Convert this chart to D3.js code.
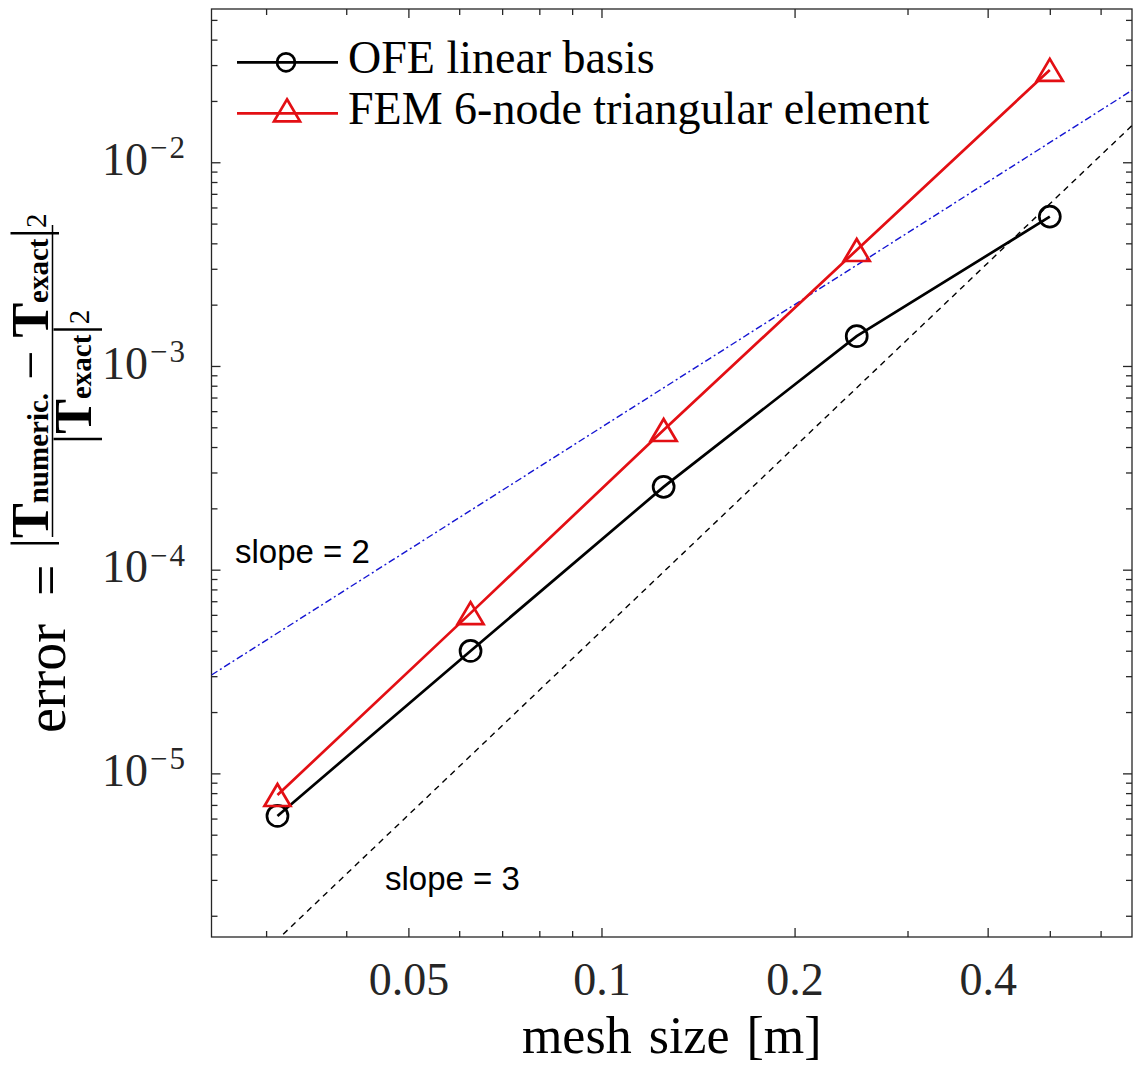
<!DOCTYPE html>
<html><head><meta charset="utf-8">
<script src="https://cdn.jsdelivr.net/npm/d3@7"></script>
<style>body{margin:0;background:#fff} svg{display:block}</style>
</head><body><svg id="c" width="1134" height="1070"></svg>
<script>
// ---- data ----
const meshSize = [0.03125, 0.0625, 0.125, 0.25, 0.5];
const ofeError = [6.18e-6, 3.99e-5, 2.55e-4, 1.40e-3, 5.41e-3];
const femError = [7.83e-6, 6.12e-5, 4.85e-4, 3.71e-3, 2.84e-2];
const seriesNames = ["OFE linear basis", "FEM 6-node triangular element"];
const slopeOrders = [2, 3];
const slopeCoef = [0.05, 0.05];
const slopeLabels = ["slope = 2", "slope = 3"];
const xMajorTicks = [0.05, 0.1, 0.2, 0.4];
const xMinorTicks = [0.03, 0.04, 0.06, 0.07, 0.08, 0.09, 0.3, 0.5, 0.6];
const yMajorExponents = [-5, -4, -3, -2];
const xDomain = [0.02466, 0.6716];
const yDomain = [1.573e-6, 0.05655];

// ---- layout ----
const L = 211.5, R = 1132, T = 9, B = 937;
const svg = d3.select("#c");
const x = d3.scaleLog().domain(xDomain).range([L, R]);
const y = d3.scaleLog().domain(yDomain).range([B, T]);
const axisCol = "#262626";
const serif = "'Liberation Serif', 'Times New Roman', serif";
const sans = "'Liberation Sans', Arial, sans-serif";

svg.append("defs").append("clipPath").attr("id", "clip")
  .append("rect").attr("x", L).attr("y", T).attr("width", R - L).attr("height", B - T);

const yMajor = yMajorExponents.map(e => Math.pow(10, e));
const yMinor = [];
for (let e = -6; e <= -1; e++) for (let m = 2; m <= 9; m++) {
  const v = m * Math.pow(10, e);
  if (v > yDomain[0] && v < yDomain[1]) yMinor.push(v);
}

// ---- axes (ticks inward, box) ----
function styleAxis(g) {
  g.select(".domain").remove();
  g.selectAll(".tick line").attr("stroke", axisCol).attr("stroke-width", 1.3);
}
svg.append("g").attr("transform", `translate(0,${B})`)
  .call(d3.axisBottom(x).tickValues(xMajorTicks).tickSize(-9).tickPadding(25.5).tickFormat(d => String(d)))
  .call(styleAxis)
  .call(g => g.selectAll("text").attr("font-family", serif).attr("font-size", 46).attr("fill", axisCol));
svg.append("g").attr("transform", `translate(0,${B})`)
  .call(d3.axisBottom(x).tickValues(xMinorTicks).tickSize(-6).tickFormat(""))
  .call(styleAxis);
svg.append("g").attr("transform", `translate(0,${T})`)
  .call(d3.axisTop(x).tickValues(xMajorTicks).tickSize(-9).tickFormat(""))
  .call(styleAxis);
svg.append("g").attr("transform", `translate(0,${T})`)
  .call(d3.axisTop(x).tickValues(xMinorTicks).tickSize(-6).tickFormat(""))
  .call(styleAxis);
svg.append("g").attr("transform", `translate(${L},0)`)
  .call(d3.axisLeft(y).tickValues(yMajor).tickSize(-9).tickFormat(""))
  .call(styleAxis);
svg.append("g").attr("transform", `translate(${L},0)`)
  .call(d3.axisLeft(y).tickValues(yMinor).tickSize(-6).tickFormat(""))
  .call(styleAxis);
svg.append("g").attr("transform", `translate(${R},0)`)
  .call(d3.axisRight(y).tickValues(yMajor).tickSize(-9).tickFormat(""))
  .call(styleAxis);
svg.append("g").attr("transform", `translate(${R},0)`)
  .call(d3.axisRight(y).tickValues(yMinor).tickSize(-6).tickFormat(""))
  .call(styleAxis);
svg.append("rect").attr("x", L).attr("y", T).attr("width", R - L).attr("height", B - T)
  .attr("fill", "none").attr("stroke", axisCol).attr("stroke-width", 1.3);

// y tick labels 10^{e}
const yl = svg.append("g").attr("fill", axisCol).attr("font-family", serif);
yMajorExponents.forEach(e => {
  const py = y(Math.pow(10, e));
  yl.append("text").attr("x", 148).attr("y", py + 12.7).attr("text-anchor", "end")
    .attr("font-size", 46).text("10");
  yl.append("text").attr("x", 150).attr("y", py - 4).attr("text-anchor", "start")
    .attr("font-size", 31).attr("letter-spacing", 2).text("\u2212" + (-e));
});

// ---- reference slope lines ----
const plot = svg.append("g").attr("clip-path", "url(#clip)");
const slopeStyles = [
  { color: "#1414d2", dash: "7,3,2,3" },
  { color: "#000000", dash: "6,5" }
];
slopeOrders.forEach((p, i) => {
  const pts = xDomain.map(h => [h, slopeCoef[i] * Math.pow(h, p)]);
  plot.append("path").datum(pts)
    .attr("d", d3.line().x(d => x(d[0])).y(d => y(d[1])))
    .attr("fill", "none").attr("stroke", slopeStyles[i].color)
    .attr("stroke-width", 1.4).attr("stroke-dasharray", slopeStyles[i].dash);
});

// ---- data series ----
const triPath = (w, h) => `M0,${-h / 2}L${w / 2},${h / 2}L${-w / 2},${h / 2}Z`;
const series = [
  { name: seriesNames[0], vals: ofeError, color: "#000000", marker: "circle" },
  { name: seriesNames[1], vals: femError, color: "#e30f14", marker: "triangle" }
];
const line = d3.line().x(d => x(d[0])).y(d => y(d[1]));
series.forEach(s => {
  const pts = meshSize.map((h, i) => [h, s.vals[i]]);
  plot.append("path").datum(pts).attr("d", line)
    .attr("fill", "none").attr("stroke", s.color).attr("stroke-width", 2.7);
  const mk = plot.selectAll(null).data(pts).enter();
  if (s.marker === "circle") {
    mk.append("circle").attr("cx", d => x(d[0])).attr("cy", d => y(d[1])).attr("r", 10.5)
      .attr("fill", "none").attr("stroke", s.color).attr("stroke-width", 2.7);
  } else {
    mk.append("path").attr("transform", d => `translate(${x(d[0])},${y(d[1])})`)
      .attr("d", triPath(26, 22)).attr("fill", "none")
      .attr("stroke", s.color).attr("stroke-width", 2.7).attr("stroke-linejoin", "miter");
  }
});

// ---- slope labels ----
svg.append("text").attr("x", 235).attr("y", 563).attr("font-family", sans).attr("font-size", 33)
  .attr("fill", "#000").text(slopeLabels[0]);
svg.append("text").attr("x", 385).attr("y", 890).attr("font-family", sans).attr("font-size", 33)
  .attr("fill", "#000").text(slopeLabels[1]);

// ---- legend ----
const leg = svg.append("g");
const legY = [62.3, 113.3];
series.forEach((s, i) => {
  leg.append("line").attr("x1", 237).attr("x2", 338).attr("y1", legY[i]).attr("y2", legY[i])
    .attr("stroke", s.color).attr("stroke-width", 2.7);
  if (s.marker === "circle") {
    leg.append("circle").attr("cx", 286).attr("cy", legY[i]).attr("r", 9)
      .attr("fill", "none").attr("stroke", s.color).attr("stroke-width", 2.7);
  } else {
    leg.append("path").attr("transform", `translate(287,${legY[i] - 3})`).attr("d", triPath(26, 22))
      .attr("fill", "none").attr("stroke", s.color).attr("stroke-width", 2.7);
  }
  leg.append("text").attr("x", 348).attr("y", legY[i] + 11).attr("font-family", serif)
    .attr("font-size", 46).attr("fill", "#000").text(s.name);
});

// ---- axis titles ----
svg.append("text").attr("x", (L + R) / 2).attr("y", 1053).attr("text-anchor", "middle")
  .attr("font-family", serif).attr("font-size", 52).attr("word-spacing", 4).attr("fill", "#000").text("mesh size [m]");

const yt = svg.append("g").attr("transform", "rotate(-90)").attr("font-family", serif).attr("fill", "#000");
yt.append("text").attr("x", -733).attr("y", 65).attr("font-size", 56).text("error");
yt.append("text").attr("x", -596).attr("y", 65).attr("font-size", 56).text("=");
yt.append("line").attr("x1", -537).attr("x2", -225).attr("y1", 52.5).attr("y2", 52.5)
  .attr("stroke", "#000").attr("stroke-width", 1.5);
const num = yt.append("text").attr("x", -381).attr("y", 48).attr("text-anchor", "middle").attr("font-size", 52);
num.append("tspan").text("|");
num.append("tspan").attr("font-weight", "bold").text("T");
num.append("tspan").attr("font-weight", "bold").attr("font-size", 29).text("numeric.");
num.append("tspan").text(" \u2212 ");
num.append("tspan").attr("font-weight", "bold").text("T");
num.append("tspan").attr("font-weight", "bold").attr("font-size", 29).text("exact");
num.append("tspan").text("|");
num.append("tspan").attr("font-size", 29).attr("dy", -2).text("2");
const den = yt.append("text").attr("x", -377).attr("y", 91).attr("text-anchor", "middle").attr("font-size", 52);
den.append("tspan").text("|");
den.append("tspan").attr("font-weight", "bold").text("T");
den.append("tspan").attr("font-weight", "bold").attr("font-size", 29).text("exact");
den.append("tspan").text("|");
den.append("tspan").attr("font-size", 29).attr("dy", -2).text("2");
</script>
</body></html>
